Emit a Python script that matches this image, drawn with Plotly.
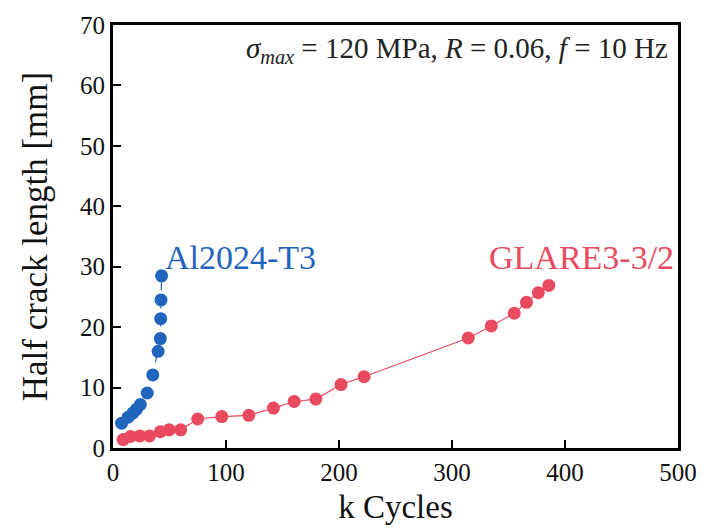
import plotly.graph_objects as go

# Al2024-T3 data (k cycles, half crack length mm)
al_cycles = [7.6, 13.4, 17.7, 20.7, 24.2, 30.3, 35.2, 39.9, 41.9, 42.2, 42.5, 43.0]
al_length = [4.1, 5.1, 5.8, 6.4, 7.2, 9.1, 12.1, 16.0, 18.1, 21.4, 24.5, 28.5]

# GLARE3-3/2 data
gl_cycles = [9.0, 15.4, 23.6, 32.3, 41.9, 49.7, 59.9, 75.0, 96.3, 120.2, 142.0, 160.3,
             179.5, 201.8, 222.2, 314.4, 334.8, 355.1, 365.9, 376.4, 385.7]
gl_length = [1.4, 1.9, 2.0, 2.0, 2.7, 3.0, 3.0, 4.8, 5.2, 5.4, 6.6, 7.7,
             8.1, 10.5, 11.8, 18.2, 20.2, 22.3, 24.1, 25.7, 26.9]

x_ticks = [0, 100, 200, 300, 400, 500]
y_ticks = [0, 10, 20, 30, 40, 50, 60, 70]

BLUE = "#1f64bd"
RED = "#ea4a5f"
FONT = "Liberation Serif"

fig = go.Figure()
fig.add_trace(go.Scatter(
    x=gl_cycles, y=gl_length, mode="lines+markers",
    line=dict(color=RED, width=1.2),
    marker=dict(color=RED, size=13), showlegend=False))
fig.add_trace(go.Scatter(
    x=al_cycles, y=al_length, mode="lines+markers",
    line=dict(color=BLUE, width=1.2, dash="dash"),
    marker=dict(color=BLUE, size=13), showlegend=False))

fig.add_annotation(x=113, y=31.6, text="Al2024-T3", showarrow=False,
                   font=dict(family=FONT, size=34, color=BLUE), xanchor="center", yanchor="middle")
fig.add_annotation(x=498, y=31.6, text="GLARE3-3/2", showarrow=False,
                   font=dict(family=FONT, size=34, color=RED), xanchor="right", yanchor="middle")
fig.add_annotation(xref="paper", yref="paper", x=0.985, y=0.94,
                   text="<i>σ<sub>max</sub></i> = 120 MPa, <i>R</i> = 0.06, <i>f</i> = 10 Hz",
                   showarrow=False, font=dict(family=FONT, size=29, color="#222"),
                   xanchor="right", yanchor="middle")

axis_common = dict(showline=True, linecolor="black", linewidth=3, mirror=True,
                   ticks="inside", ticklen=8, tickwidth=2, tickcolor="black",
                   showgrid=False, zeroline=False,
                   tickfont=dict(family=FONT, size=25, color="#111"))

fig.update_xaxes(range=[0, 500], tickvals=x_ticks,
                 title=dict(text="k Cycles", font=dict(family=FONT, size=33, color="#111"), standoff=10),
                 **axis_common)
fig.update_yaxes(range=[0, 70], tickvals=y_ticks,
                 title=dict(text="Half crack length [mm]", font=dict(family=FONT, size=35, color="#111"), standoff=22),
                 **axis_common)

fig.update_layout(width=709, height=531, plot_bgcolor="white", paper_bgcolor="white",
                  margin=dict(l=113, r=21, t=24, b=80))

fig.write_html("out.html")
